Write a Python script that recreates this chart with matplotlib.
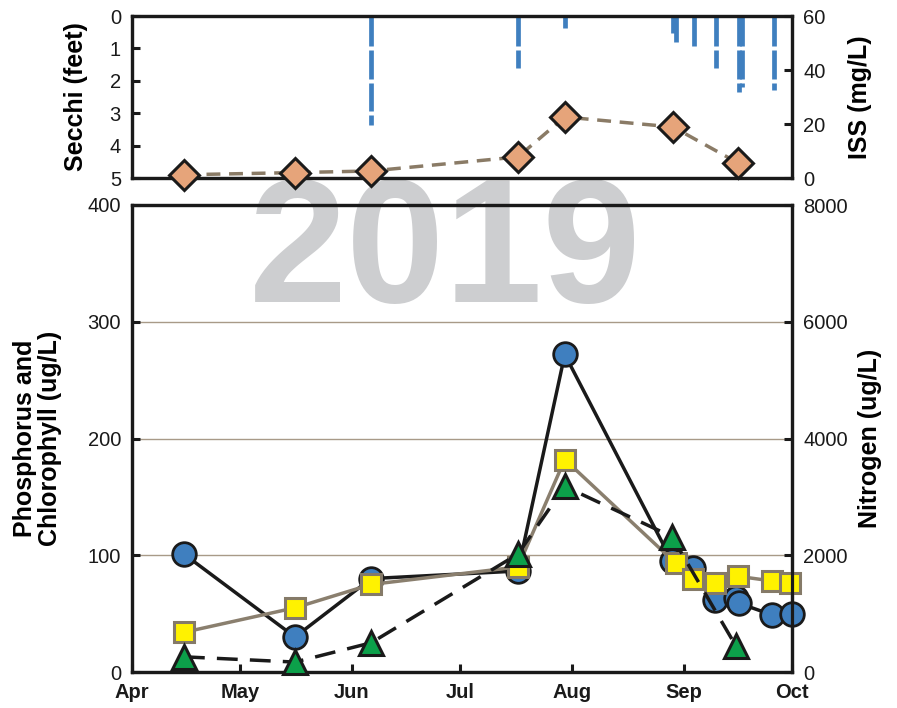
import numpy as np
import matplotlib
matplotlib.use("Agg")
import matplotlib.pyplot as plt
import matplotlib.transforms as mtransforms

plt.rcParams['font.family'] = ['Liberation Sans', 'DejaVu Sans']

# ---- data (days since Apr 1, 2019) ----
month_days = [0, 30, 61, 91, 122, 153, 183]
month_labels = ['Apr', 'May', 'Jun', 'Jul', 'Aug', 'Sep', 'Oct']

secchi_days = [66.3, 107, 120, 150, 150.8, 155.8, 161.9, 168.3, 169.1, 178]
secchi_ft = [3.36, 1.6, 0.37, 0.52, 0.8, 0.96, 1.6, 2.35, 2.2, 2.28]

iss_days = [14.4, 45.2, 66.3, 107, 120, 150, 168]
iss_mgL = [1.2, 2.0, 2.6, 7.8, 22.6, 18.9, 5.6]

tp_days = [14.4, 45.2, 66.3, 107, 120, 149.7, 155.5, 161.6, 167.4, 168.2, 177.4, 183]
tp_ugL = [101, 30, 80, 86.5, 272, 95, 89, 62, 63, 59, 49, 50]

chl_days = [14.4, 45.2, 66.3, 107, 120, 150.8, 155.5, 161.6, 168, 177.4, 182.4]
chl_ugL = [34, 55, 75, 90, 182, 93, 80, 76, 82, 78, 76]

tn_days = [14.4, 45.2, 66.3, 107, 120, 149.7, 167.5]
tn_ugL = [260, 170, 500, 2020, 3180, 2320, 440]

W, H = 897, 708
fig = plt.figure(figsize=(W / 100, H / 100), dpi=100)

def rect(l, t, r, b):
    return [l / W, 1 - b / H, (r - l) / W, (b - t) / H]

axt = fig.add_axes(rect(132, 16, 792, 178))
axb = fig.add_axes(rect(132, 205, 792, 672))
for a in (axt, axb):
    a.set_facecolor('none')

fig.text(445 / W, 1 - 256 / H, '2019', fontsize=127, fontweight='bold',
         color='#cdced0', ha='center', va='center', zorder=-5)

spine_lw = 2.3
blue = '#3f7fbf'
lab_fs = 18
tick_fs = 14.5

# ---- top panel: Secchi bars ----
axt.set_xlim(0, 183)
axt.set_ylim(5, 0)
g = 0.06
for d, dep in zip(secchi_days, secchi_ft):
    k = 0
    while k < dep:
        y0 = 0 if k == 0 else k + g
        y1 = min(k + 1 - g, dep)
        if y1 > y0:
            axt.plot([d, d], [y0, y1], color=blue, lw=3.4, solid_capstyle='butt',
                     zorder=2, clip_on=False)
        k += 1
axt.set_yticks([0, 1, 2, 3, 4, 5])
axt.set_xticks([])
axt.set_ylabel('Secchi (feet)', fontsize=lab_fs, fontweight='bold')
axt.yaxis.set_label_coords(-0.066, 0.5)

axt2 = axt.twinx()
axt2.set_facecolor('none')
axt2.set_ylim(0, 60)
axt2.set_yticks([0, 20, 40, 60])
axt2.plot(iss_days, iss_mgL, ls=(0, (4, 2.5)), color='#8a7b66', lw=2.5,
          marker='D', ms=15.5, mfc='#e6a47a', mec='#1a1a1a', mew=2.2, clip_on=False, zorder=3)
axt2.set_ylabel('ISS (mg/L)', fontsize=lab_fs, fontweight='bold')
axt2.yaxis.set_label_coords(1.085, 0.5)

# ---- bottom panel ----
axb.set_xlim(0, 183)
axb.set_ylim(0, 400)
axb.set_yticks([0, 100, 200, 300, 400])
for yv in [100, 200, 300]:
    axb.axhline(yv, color='#a89a88', lw=1.0, zorder=0)
axb.plot(tp_days, tp_ugL, color='#1a1a1a', lw=2.5, marker='o', ms=17,
         mfc=blue, mec='#1a1a1a', mew=2.0, clip_on=False, zorder=3)
axb.plot(chl_days, chl_ugL, color='#8a7f6e', lw=2.5, marker='s', ms=14,
         mfc='#fff200', mec='#857a68', mew=2.2, clip_on=False, zorder=4)
axb.set_xticks(month_days)
axb.set_xticklabels(month_labels, fontsize=14.5, fontweight='bold')
offset = mtransforms.ScaledTranslation(-3 / 72, 0, fig.dpi_scale_trans)
for lab in axb.get_xticklabels():
    lab.set_transform(lab.get_transform() + offset)
axb.set_ylabel('Phosphorus and\nChlorophyll (ug/L)', fontsize=lab_fs, fontweight='bold',
               linespacing=1.05)
axb.yaxis.set_label_coords(-0.106, 0.5)

axb2 = axb.twinx()
axb2.set_facecolor('none')
axb2.set_ylim(0, 8000)
axb2.set_yticks([0, 2000, 4000, 6000, 8000])
axb2.plot(tn_days, tn_ugL, color='#1a1a1a', lw=2.5, ls=(0, (6, 3.5)), marker='^', ms=17,
          mfc='#0ca04a', mec='#1a1a1a', mew=2.2, clip_on=False, zorder=5)
axb2.set_ylabel('Nitrogen (ug/L)', fontsize=lab_fs, fontweight='bold')
axb2.yaxis.set_label_coords(1.1, 0.5)

for a in (axt, axt2, axb, axb2):
    for s in a.spines.values():
        s.set_linewidth(spine_lw)
        s.set_color('#1a1a1a')
    a.tick_params(direction='in', length=6, width=2.2, labelsize=tick_fs, pad=8,
                  color='#1a1a1a', labelcolor='#1a1a1a')
axb.tick_params(axis='x', pad=8, labelsize=14.5)

fig.savefig('out.png', dpi=100)
